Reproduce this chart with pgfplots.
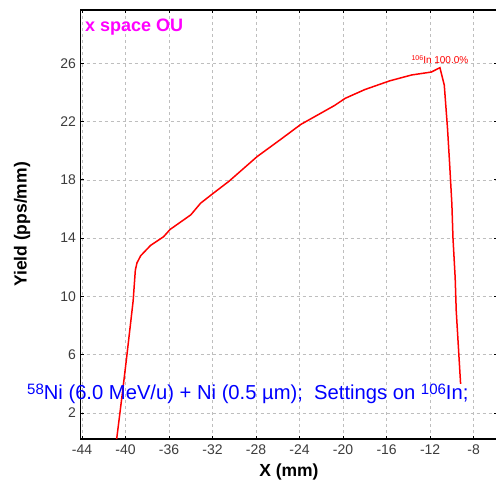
\documentclass[border=0pt]{standalone}
\usepackage{pgfplots}
\pgfplotsset{compat=1.18}
\usepackage{fontspec}
\setmainfont{Liberation Sans}
\definecolor{magentaT}{RGB}{255,0,255}
\definecolor{blueT}{RGB}{0,0,255}
\definecolor{redT}{RGB}{255,0,0}
\definecolor{tickgray}{RGB}{60,60,60}
\definecolor{gridgray}{RGB}{190,190,190}
\begin{document}
\begin{tikzpicture}
\begin{axis}[
  at={(80.5pt,42pt)}, anchor=south west,
  scale only axis, width=416pt, height=429pt,
  xmin=-44.14, xmax=-5.9, ymin=0.215, ymax=29.66,
  xtick={-44,-40,...,-8}, ytick={2,6,...,26},
  grid=major,
  major grid style={gridgray, line width=0.7pt, dash pattern=on 3pt off 3pt},
  axis line style={black, line width=1.6pt},
  tick style={black, line width=0.8pt},
  major tick length=3pt,
  /pgf/number format/assume math mode=true,
  tick label style={font=\fontsize{14}{14}\selectfont, text=tickgray},
  xticklabel style={yshift=-2pt},
  yticklabel style={xshift=-1pt},
  xlabel={X (mm)}, ylabel={Yield (pps/mm)},
  label style={font=\fontsize{17.5}{17.5}\selectfont\bfseries},
  xlabel style={at={(axis description cs:0.501,-0.077)}, anchor=center},
  ylabel style={at={(axis description cs:-0.1406,0.5)}, anchor=center},
  clip mode=individual,
]
\addplot[redT, line width=1.5pt] coordinates {
(-40.85,0.0) (-40.3,3.3) (-39.9,5.8) (-39.3,9.7) (-39.1,11.8) (-38.95,12.3)
(-38.6,12.8) (-37.7,13.5) (-36.5,14.1) (-35.9,14.6) (-34.0,15.6) (-33.1,16.4)
(-31.9,17.1) (-30.5,17.9) (-27.9,19.6) (-25.7,20.8) (-23.9,21.8) (-20.8,23.1)
(-19.8,23.6) (-18.0,24.2) (-15.7,24.8) (-15.2,24.9) (-13.7,25.2) (-11.9,25.4)
(-11.1,25.7) (-10.7,24.5) (-10.4,21.5) (-10.2,19.0) (-10.0,16.3) (-9.9,14.0)
(-9.7,11.3) (-9.6,9.0) (-9.4,6.5) (-9.2,4.0)
};
\node[anchor=base west, text=magentaT, font=\fontsize{18}{18}\selectfont\bfseries, inner sep=0pt]
  at (rel axis cs:0.0108,0.951) {x space OU};
\node[anchor=base, text=redT, font=\fontsize{10}{10}\selectfont, inner sep=0pt]
  at (axis cs:-11.1,26.0) {\raisebox{3pt}{\fontsize{7}{7}\selectfont 106}In 100.0\%};
\node[anchor=base west, text=blueT, font=\fontsize{20.2}{20.2}\selectfont, inner sep=0pt]
  at (axis cs:-49.06,2.9) {\raisebox{5pt}{\fontsize{15}{15}\selectfont 58}Ni (6.0 MeV/u) + Ni (0.5 µm);\ \ Settings on \raisebox{5pt}{\fontsize{15}{15}\selectfont 106}In;};
\end{axis}
\pgfresetboundingbox
\useasboundingbox (0,0) rectangle (496pt,481pt);
\end{tikzpicture}
\end{document}
